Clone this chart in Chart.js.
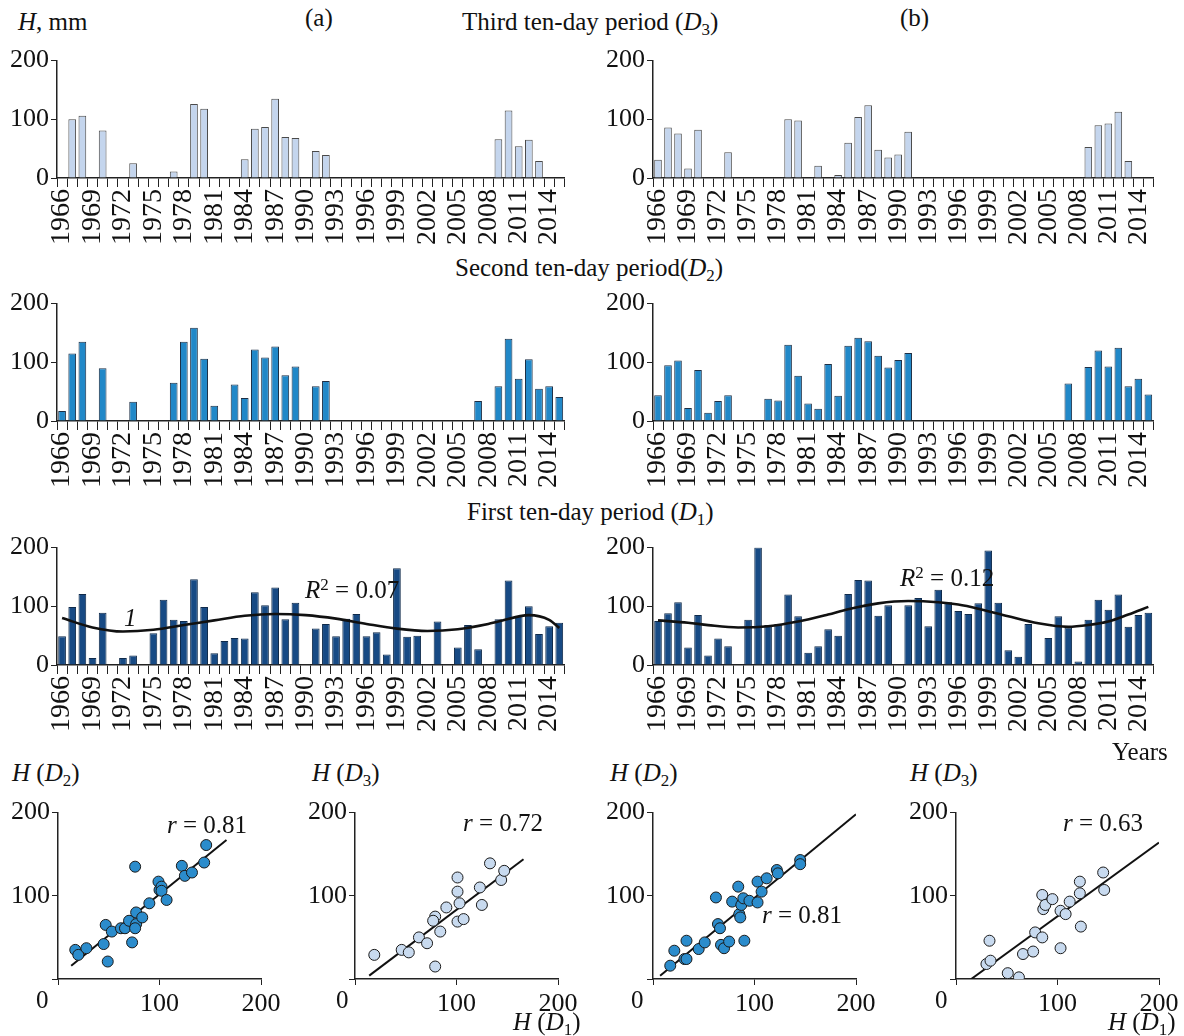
<!DOCTYPE html>
<html>
<head>
<meta charset="utf-8">
<script src="https://cdn.jsdelivr.net/npm/chart.js@4.4.1/dist/chart.umd.min.js"></script>
<style>
  body { margin: 0; background: #fff; }
  #wrap { position: relative; width: 1184px; height: 1036px; overflow: hidden; background: #fff; }
  canvas { position: absolute; }
  .t { position: absolute; font-family: 'Liberation Serif', 'Times New Roman', serif; font-size: 25px; color: #111; white-space: nowrap; line-height: 1; }
  .t i { font-style: italic; }
  .sb { font-size: 0.68em; position: relative; top: 0.3em; }
  .sp { font-size: 0.68em; position: relative; top: -0.45em; }
</style>
</head>
<body>
<div id="wrap">
  <canvas id="d3a" width="595" height="210" style="left:0;top:43px"></canvas>
  <canvas id="d3b" width="588" height="210" style="left:596px;top:43px"></canvas>
  <canvas id="d2a" width="595" height="210" style="left:0;top:286px"></canvas>
  <canvas id="d2b" width="588" height="210" style="left:596px;top:286px"></canvas>
  <canvas id="d1a" width="595" height="210" style="left:0;top:530px"></canvas>
  <canvas id="d1b" width="588" height="210" style="left:596px;top:530px"></canvas>

  <canvas id="s1" width="290" height="220" style="left:0;top:795px"></canvas>
  <canvas id="s2" width="290" height="220" style="left:297px;top:795px"></canvas>
  <canvas id="s3" width="290" height="220" style="left:595px;top:795px"></canvas>
  <canvas id="s4" width="290" height="220" style="left:898px;top:795px"></canvas>

  <div class="t" style="left:18px;top:9px"><i>H</i>, mm</div>
  <div class="t" style="left:305px;top:5px">(a)</div>
  <div class="t" style="left:900px;top:5px">(b)</div>
  <div class="t" style="left:462px;top:9px">Third ten-day period (<i>D</i><span class="sb">3</span>)</div>
  <div class="t" style="left:455px;top:255px">Second ten-day period(<i>D</i><span class="sb">2</span>)</div>
  <div class="t" style="left:467px;top:499px">First ten-day period (<i>D</i><span class="sb">1</span>)</div>
  <div class="t" style="left:305px;top:577px"><i>R</i><span class="sp">2</span> = 0.07</div>
  <div class="t" style="left:900px;top:565px"><i>R</i><span class="sp">2</span> = 0.12</div>
  <div class="t" style="left:124px;top:605px"><i>1</i></div>
  <div class="t" style="left:1112px;top:739px">Years</div>

  <div class="t" style="left:12px;top:760px"><i>H</i> (<i>D</i><span class="sb">2</span>)</div>
  <div class="t" style="left:312px;top:760px"><i>H</i> (<i>D</i><span class="sb">3</span>)</div>
  <div class="t" style="left:610px;top:760px"><i>H</i> (<i>D</i><span class="sb">2</span>)</div>
  <div class="t" style="left:910px;top:760px"><i>H</i> (<i>D</i><span class="sb">3</span>)</div>
  <div class="t" style="left:513px;top:1009px"><i>H</i> (<i>D</i><span class="sb">1</span>)</div>
  <div class="t" style="left:1108px;top:1009px"><i>H</i> (<i>D</i><span class="sb">1</span>)</div>

  <div class="t" style="left:36px;top:987px">0</div>
  <div class="t" style="left:336px;top:987px">0</div>
  <div class="t" style="left:631px;top:987px">0</div>
  <div class="t" style="left:935px;top:987px">0</div>

  <div class="t" style="left:167px;top:812px"><i>r</i> = 0.81</div>
  <div class="t" style="left:463px;top:810px"><i>r</i> = 0.72</div>
  <div class="t" style="left:762px;top:902px"><i>r</i> = 0.81</div>
  <div class="t" style="left:1063px;top:810px"><i>r</i> = 0.63</div>
</div>
<script>
// years 1966..2015
var years = [];
for (var y = 1966; y <= 2015; y++) years.push(String(y));

// third ten-day period (D3), mm
var d3a = [null, 100, 106, null, 81, null, null, 25, null, null,
           null, 11, null, 126, 118, null, null, null, 32, 84,
           87, 135, 70, 68, null, 46, 39, null, null, null,
           null, null, null, null, null, null, null, null, null, null,
           null, null, null, 66, 115, 54, 65, 29, null, null];
var d3b = [31, 86, 76, 16, 82, null, null, 44, null, null,
           null, null, null, 100, 98, null, 21, 1, 5, 60,
           104, 124, 48, 35, 40, 79, null, null, null, null,
           null, null, null, null, null, null, null, null, null, null,
           null, null, null, 53, 90, 93, 113, 29, null, null];

// second ten-day period (D2)
var d2a = [17, 115, 135, null, 90, null, null, 33, null, null,
           null, 65, 135, 159, 106, 26, null, 62, 39, 122,
           108, 127, 78, 93, null, 59, 68, null, null, null,
           null, null, null, null, null, null, null, null, null, null,
           null, 34, null, 59, 140, 72, 105, 55, 59, 41];
var d2b = [44, 95, 103, 22, 87, 14, 34, 44, null, null,
           null, 38, 35, 130, 77, 30, 21, 97, 43, 128,
           142, 136, 111, 91, 104, 116, null, null, null, null,
           null, null, null, null, null, null, null, null, null, null,
           null, 64, null, 92, 120, 93, 125, 59, 72, 45];

// first ten-day period (D1)
var d1a = [49, 99, 121, 12, 89, null, 12, 16, null, 54,
           111, 77, 75, 146, 99, 20, 41, 46, 45, 124,
           102, 132, 78, 106, null, 62, 70, 49, 79, 87,
           49, 56, 18, 165, 48, 50, null, 74, null, 30,
           68, 27, null, 78, 144, 84, 100, 53, 66, 72];
var d1b = [75, 88, 107, 30, 85, 16, 45, 32, null, 77,
           200, 68, 70, 120, 83, 21, 32, 61, 50, 121,
           145, 144, 84, 102, null, 102, 114, 66, 128, 107,
           92, 87, 105, 195, 106, 25, 14, 70, null, 46,
           83, 64, 6, 77, 111, 94, 120, 65, 85, 89];

// fitted curves (1), read at some years only
var trendA = [80, null, null, 64, null, null, 57, null, null, 60,
              null, null, 68, null, null, 76, null, null, 84, null,
              null, 87, null, null, 85, null, null, 79, null, null,
              70, null, null, 62, null, null, 58, null, null, 61,
              null, null, 70, 74, null, null, 85, null, 77, 63];
var trendB = [76, null, null, 72, null, 68, null, null, 64, null,
              null, 66, null, null, 74, null, null, 86, null, 95,
              null, null, 105, null, null, 109, null, null, 107, null,
              103, null, 96, null, null, 83, null, null, 71, null,
              null, 65, null, 68, null, 74, null, 86, null, 99];

// scatter: (a) D1 vs D2, D1 vs D3 ; (b) D1 vs D2, D1 vs D3
var s1x = [17, 20, 28, 45, 47, 49, 53, 62, 66, 70, 73, 76, 77, 77, 76, 83, 90, 99, 100, 102, 102, 107, 122, 125, 132, 144, 146];
var s1y = [35, 29, 37, 42, 65, 21, 57, 61, 61, 70, 44, 135, 80, 66, 61, 74, 91, 117, 107, 111, 106, 95, 136, 124, 128, 140, 161];
var s2x = [19, 46, 53, 63, 71, 79, 77, 79, 84, 90, 101, 101, 103, 101, 107, 123, 125, 133, 144, 147];
var s2y = [29, 35, 32, 50, 43, 75, 70, 15, 57, 86, 122, 105, 91, 69, 72, 110, 89, 139, 119, 130];
var s3x = [17, 21, 31, 33, 33, 45, 51, 62, 64, 66, 67, 70, 75, 78, 84, 85, 86, 87, 89, 90, 95, 103, 103, 107, 112, 122, 123, 145, 145];
var s3y = [16, 34, 24, 46, 24, 36, 44, 98, 66, 61, 41, 37, 45, 93, 111, 78, 74, 89, 97, 46, 94, 117, 92, 105, 121, 131, 127, 143, 138];
var s4x = [33, 30, 34, 51, 62, 66, 76, 78, 85, 85, 86, 88, 95, 103, 103, 108, 112, 122, 122, 123, 145, 146];
var s4y = [46, 18, 22, 7, 2, 30, 33, 56, 50, 101, 84, 89, 96, 82, 37, 78, 93, 117, 103, 63, 128, 107];

// regression lines, end points
var fit1x = [13, 166], fit1y = [16, 167];
var fit2x = [14, 166], fit2y = [4, 144];
var fit3x = [7, 200], fit3y = [4, 198];
var fit4x = [15, 200], fit4y = [0, 164];

var FONT = "'Liberation Serif', 'Times New Roman', serif";
var INK = '#222';

function barChart(id, values, fill, edge, trend, rightPad) {
    var datasets = [{
        type: 'bar',
        data: values,
        backgroundColor: fill,
        borderColor: edge,
        borderWidth: 1,
        barPercentage: 0.76,
        categoryPercentage: 1,
        order: 2
    }];
    if (trend) {
        datasets.push({
            type: 'line',
            data: trend,
            borderColor: '#111',
            borderWidth: 2.6,
            pointRadius: 0,
            spanGaps: true,
            cubicInterpolationMode: 'monotone',
            order: 1
        });
    }
    new Chart(document.getElementById(id), {
        type: 'bar',
        data: { labels: years, datasets: datasets },
        options: {
            responsive: false,
            animation: false,
            layout: { padding: { top: 12, right: rightPad, left: 0, bottom: 0 } },
            plugins: { legend: { display: false }, tooltip: { enabled: false } },
            scales: {
                x: {
                    offset: true,
                    grid: { offset: true, drawOnChartArea: false, tickLength: 9, color: INK, lineWidth: 1 },
                    border: { color: INK, width: 1.5 },
                    ticks: {
                        autoSkip: false, minRotation: 90, maxRotation: 90, padding: 2,
                        color: '#111', font: { family: FONT, size: 28 },
                        callback: function (v, i) { return i % 3 === 0 ? this.getLabelForValue(v) : ''; }
                    },
                    afterFit: function (s) { s.height = 75; }
                },
                y: {
                    min: 0, max: 200,
                    grid: { drawOnChartArea: false, tickLength: 6, color: INK },
                    border: { color: INK, width: 1.5 },
                    ticks: { stepSize: 100, padding: 2, color: '#111', font: { family: FONT, size: 26 } },
                    afterFit: function (s) { s.width = 57; }
                }
            }
        }
    });
}

function scatterChart(id, xs, ys, fx, fy, fill) {
    var pts = xs.map(function (x, i) { return { x: x, y: ys[i] }; });
    var fit = fx.map(function (x, i) { return { x: x, y: fy[i] }; });
    new Chart(document.getElementById(id), {
        type: 'scatter',
        data: {
            datasets: [
                { data: pts, backgroundColor: fill, borderColor: '#1a1a1a', borderWidth: 1, pointRadius: 5.5, order: 1 },
                { type: 'line', data: fit, borderColor: '#111', borderWidth: 2, pointRadius: 0, order: 2 }
            ]
        },
        options: {
            responsive: false,
            animation: false,
            layout: { padding: { top: 14, right: 29, left: 0, bottom: 0 } },
            plugins: { legend: { display: false }, tooltip: { enabled: false } },
            scales: {
                x: {
                    type: 'linear', min: 0, max: 200,
                    grid: { drawOnChartArea: false, tickLength: 6, color: INK },
                    border: { color: INK, width: 1.5 },
                    ticks: {
                        stepSize: 100, padding: 4, color: '#111', font: { family: FONT, size: 26 },
                        callback: function (v) { return v === 0 ? '' : v; }
                    },
                    afterFit: function (s) { s.height = 36; }
                },
                y: {
                    min: 0, max: 200,
                    grid: { drawOnChartArea: false, tickLength: 6, color: INK },
                    border: { color: INK, width: 1.5 },
                    ticks: {
                        stepSize: 100, padding: 2, color: '#111', font: { family: FONT, size: 26 },
                        callback: function (v) { return v === 0 ? '' : v; }
                    },
                    afterFit: function (s) { s.width = 58; }
                }
            }
        }
    });
}

function drawAll() {
    barChart('d3a', d3a, '#c4d5ed', '#4a4a4a', null, 12);
    barChart('d3b', d3b, '#c4d5ed', '#4a4a4a', null, 5);
    barChart('d2a', d2a, '#2188c8', '#1d2f45', null, 12);
    barChart('d2b', d2b, '#2188c8', '#1d2f45', null, 5);
    barChart('d1a', d1a, '#174a84', '#0f2a4a', trendA, 12);
    barChart('d1b', d1b, '#174a84', '#0f2a4a', trendB, 5);

    scatterChart('s1', s1x, s1y, fit1x, fit1y, '#2b8ccc');
    scatterChart('s2', s2x, s2y, fit2x, fit2y, '#c8daef');
    scatterChart('s3', s3x, s3y, fit3x, fit3y, '#2b8ccc');
    scatterChart('s4', s4x, s4y, fit4x, fit4y, '#c8daef');
}

// make sure the serif face is ready before the canvases draw text
Chart.defaults.font.family = FONT;
document.fonts.load('25px "Liberation Serif"').then(drawAll, drawAll);
</script>
</body>
</html>
